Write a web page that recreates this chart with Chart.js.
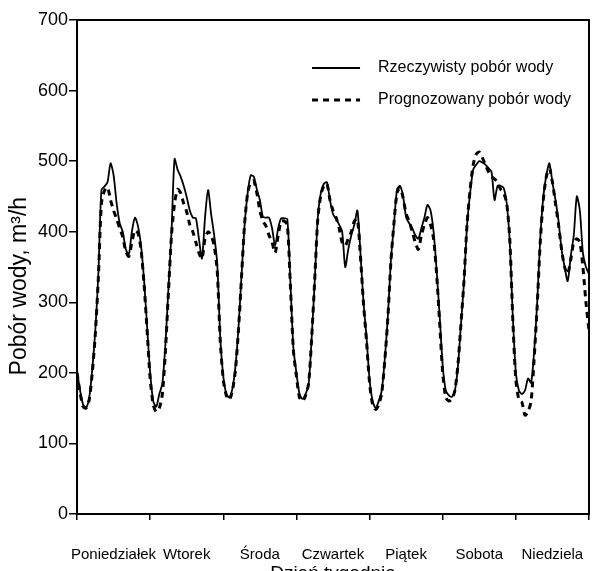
<!DOCTYPE html>
<html>
<head>
<meta charset="utf-8">
<script src="https://cdn.jsdelivr.net/npm/chart.js@4"></script>
<style>
  html, body { margin: 0; background: #fff; overflow: hidden; }
  #wrap { width: 597px; height: 586px; }
</style>
</head>
<body>
<div id="wrap"><canvas id="chart"></canvas></div>
<script>
const dayNames = ["Poniedziałek", "Wtorek", "Środa", "Czwartek", "Piątek", "Sobota", "Niedziela"];

// hourly water demand, m3/h (hour 0 .. 168)
const actual = [
  203, 175, 155, 151, 165, 205, 260, 340, 459, 464, 470, 497, 480, 440, 412, 400, 375, 368, 400, 420, 408, 380, 331, 265,
  200, 160, 152, 170, 185, 240, 320, 400, 503, 488, 478, 465, 449, 430, 420, 419, 390, 362, 420, 459, 425, 395, 355, 250,
  195, 170, 165, 178, 210, 265, 340, 410, 455, 480, 478, 460, 445, 421, 420, 420, 405, 380, 405, 419, 419, 418, 330, 235,
  200, 170, 163, 170, 184, 250, 330, 420, 455, 468, 470, 445, 425, 418, 410, 400, 350, 375, 395, 410, 430, 370, 300, 250,
  190, 160, 150, 160, 175, 220, 280, 360, 410, 460, 465, 450, 420, 412, 405, 395, 390, 405, 420, 438, 430, 400, 345, 280,
  210, 175, 168, 166, 175, 210, 270, 330, 410, 455, 488, 495, 500, 498, 495, 490, 485, 445, 465, 465, 462, 440, 385, 280,
  200, 175, 170, 175, 192, 186, 230, 300, 390, 449, 480, 497, 470, 445, 415, 375, 350, 330, 365, 395, 450, 430, 370, 350,
  340
];
const forecast = [
  200, 172, 152, 150, 162, 200, 255, 335, 440, 458, 463, 445, 430, 418, 405, 393, 372, 365, 385, 402, 398, 375, 325, 260,
  192, 155, 145, 150, 170, 230, 315, 395, 440, 460, 455, 440, 428, 410, 400, 385, 370, 362, 390, 400, 395, 380, 345, 245,
  190, 168, 162, 175, 205, 262, 338, 412, 455, 470, 472, 455, 430, 415, 408, 395, 385, 370, 395, 415, 415, 410, 325, 232,
  195, 165, 160, 168, 185, 250, 332, 418, 452, 465, 468, 445, 430, 420, 405, 385, 380, 390, 400, 415, 418, 365, 298, 245,
  185, 155, 148, 155, 172, 218, 278, 358, 412, 455, 462, 448, 425, 415, 400, 385, 375, 395, 410, 420, 410, 390, 340, 270,
  200, 165, 160, 163, 175, 212, 270, 332, 412, 460, 495, 510, 513, 505, 495, 485, 478, 475, 470, 460, 455, 440, 390, 275,
  190, 162, 158, 140, 145, 160, 220, 295, 385, 445, 478, 490, 470, 440, 410, 375, 350, 340, 360, 385, 390, 385, 350, 300,
  260
];

const FONT = "'Liberation Sans', Arial, sans-serif";

// frame + legend drawn inside the plot area
const framePlugin = {
  id: 'frame',
  afterDraw(c) {
    const { ctx, chartArea: a } = c;
    ctx.save();
    ctx.strokeStyle = '#000';
    ctx.lineWidth = 2;
    ctx.strokeRect(a.left, a.top, a.right - a.left, a.bottom - a.top);

    c.data.datasets.forEach((ds, i) => {
      const y = a.top + 48 + i * 32;
      ctx.beginPath();
      ctx.lineWidth = ds.borderWidth;
      ctx.setLineDash(ds.borderDash || []);
      ctx.moveTo(a.left + 235, y);
      ctx.lineTo(a.left + 283, y);
      ctx.stroke();
      ctx.setLineDash([]);
      ctx.fillStyle = '#000';
      ctx.font = '16px ' + FONT;
      ctx.textBaseline = 'middle';
      ctx.fillText(ds.label, a.left + 301, y);
    });
    ctx.restore();
  }
};

new Chart(document.getElementById('chart'), {
  type: 'line',
  data: {
    datasets: [
      {
        label: 'Rzeczywisty pobór wody',
        data: actual.map((v, i) => ({ x: i, y: v })),
        borderColor: '#000',
        borderWidth: 1.8,
        tension: 0.25,
        pointRadius: 0
      },
      {
        label: 'Prognozowany pobór wody',
        data: forecast.map((v, i) => ({ x: i, y: v })),
        borderColor: '#000',
        borderWidth: 3,
        borderDash: [6, 5],
        tension: 0.25,
        pointRadius: 0
      }
    ]
  },
  options: {
    responsive: true,
    maintainAspectRatio: false,
    animation: false,
    layout: { padding: { top: 20, right: 0, left: 8, bottom: 0 } },
    plugins: { legend: { display: false }, tooltip: { enabled: false } },
    scales: {
      x: {
        type: 'linear',
        min: 0,
        max: 168,
        ticks: {
          stepSize: 24,
          autoSkip: false,
          color: '#000',
          font: { family: FONT, size: 15, lineHeight: 1.2 },
          labelOffset: 36.5,
          padding: 8,
          maxRotation: 0,
          // blank first line pushes the day names down, as in the original
          callback: (v) => (v < 168 ? ['', dayNames[v / 24]] : '')
        },
        grid: { drawOnChartArea: false, drawTicks: true, tickLength: 6, color: '#000', lineWidth: 1.5 },
        border: { color: '#000', width: 2 },
        title: {
          display: true,
          text: 'Dzień tygodnia',
          color: '#000',
          font: { family: FONT, size: 19, lineHeight: 1 },
          padding: { top: -8, bottom: 3 }
        }
      },
      y: {
        min: 0,
        max: 700,
        ticks: {
          stepSize: 100,
          color: '#000',
          font: { family: FONT, size: 18 },
          padding: 1
        },
        grid: { drawOnChartArea: false, drawTicks: true, tickLength: 8, color: '#000', lineWidth: 1.5 },
        border: { color: '#000', width: 2 },
        title: {
          display: true,
          text: 'Pobór wody, m³/h      ',
          color: '#000',
          font: { family: FONT, size: 23, lineHeight: 1 },
          padding: { top: 0, bottom: 6 }
        }
      }
    }
  },
  plugins: [framePlugin]
});
</script>
</body>
</html>
